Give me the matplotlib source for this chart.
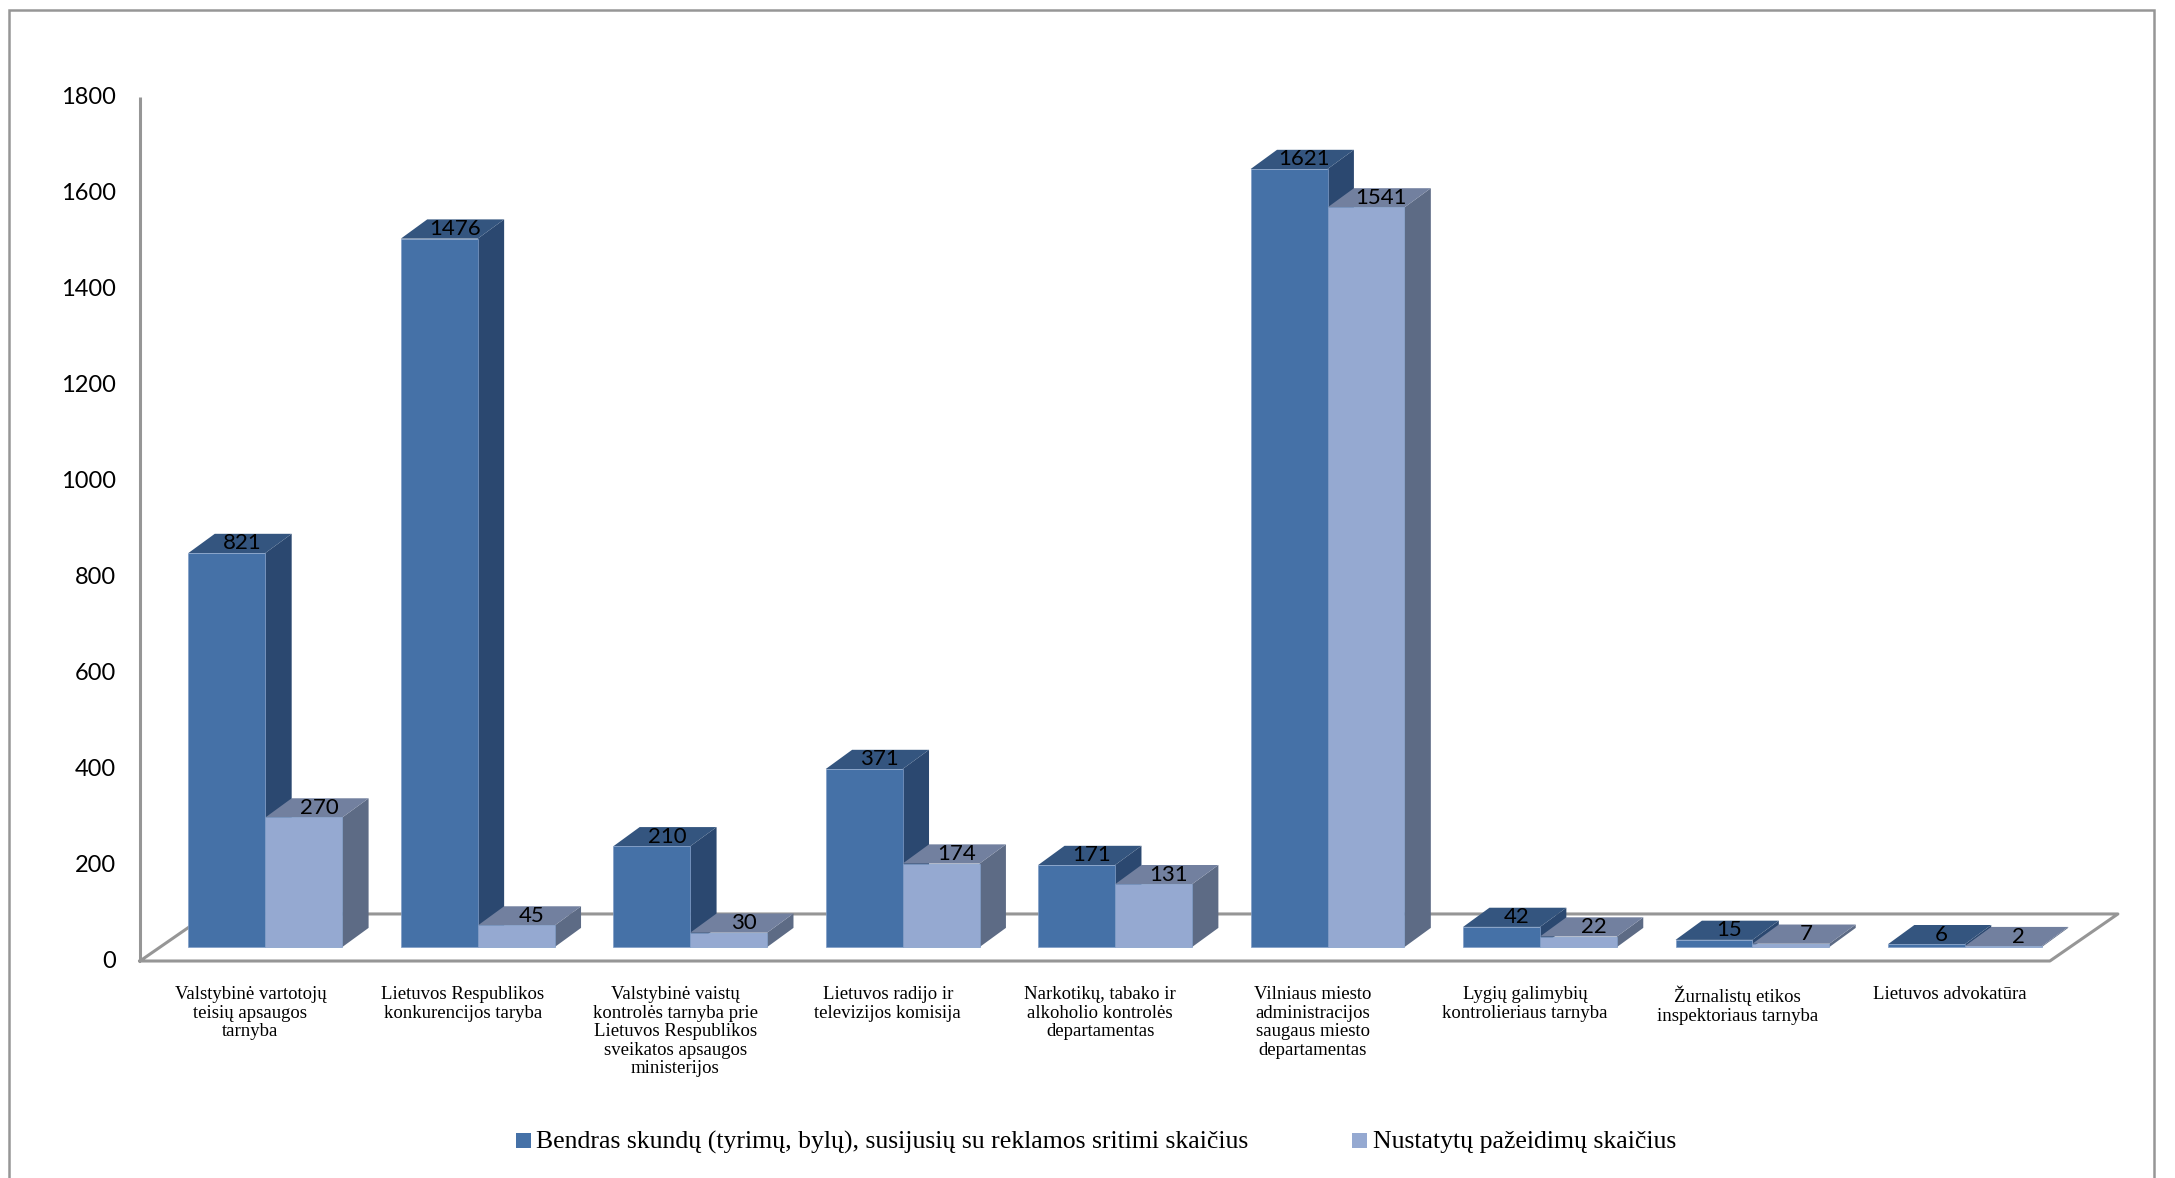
import matplotlib
matplotlib.use('Agg')
import matplotlib.pyplot as plt
from matplotlib.patches import Polygon, Rectangle

categories = [
    'Valstybinė vartotojų\nteisių apsaugos\ntarnyba',
    'Lietuvos Respublikos\nkonkurencijos taryba',
    'Valstybinė vaistų\nkontrolės tarnyba prie\nLietuvos Respublikos\nsveikatos apsaugos\nministerijos',
    'Lietuvos radijo ir\ntelevizijos komisija',
    'Narkotikų, tabako ir\nalkoholio kontrolės\ndepartamentas',
    'Vilniaus miesto\nadministracijos\nsaugaus miesto\ndepartamentas',
    'Lygių galimybių\nkontrolieriaus tarnyba',
    'Žurnalistų etikos\ninspektoriaus tarnyba',
    'Lietuvos advokatūra',
]
complaints = [821, 1476, 210, 371, 171, 1621, 42, 15, 6]
violations = [270, 45, 30, 174, 131, 1541, 22, 7, 2]
series_names = ['Bendras skundų (tyrimų, bylų), susijusių su reklamos sritimi skaičius',
                'Nustatytų pažeidimų skaičius']
y_ticks = [0, 200, 400, 600, 800, 1000, 1200, 1400, 1600, 1800]

GRAY = '#969696'
# front, top, side
BLUE = ('#4571a7', '#34557f', '#2b4870')
LIGHT = ('#95a9d1', '#72809f', '#5d6b85')

W, H = 2175, 1178
BAR_W = 0.362
BASE = 29     # bars stand this far above the front edge of the floor
DX = 0.124    # 3d depth of a bar
DY = 40
FLOOR_DX = 0.32
FLOOR_DY = 98

fig = plt.figure(figsize=(W / 100, H / 100), dpi=100)
ax = fig.add_axes([140 / W, 1 - 961 / H, (2120 - 140) / W, (961 - 97) / H])
ax.set_xlim(-0.59, 8.73)
ax.set_ylim(0, 1800)
ax.axis('off')

# page frame
fig.add_artist(Rectangle((9 / W, -0.02), (W - 30) / W, 1.02 - 10 / H, fill=False,
                         edgecolor=GRAY, linewidth=1.8, transform=fig.transFigure))

# floor and y axis
x0, x1 = -0.59, 8.40
ax.plot([x0, x0], [1800, 0], color=GRAY, lw=2.2, clip_on=False, zorder=1, solid_capstyle='butt')
ax.plot([x0, x1, x1 + FLOOR_DX, x0 + FLOOR_DX, x0],
        [0, 0, FLOOR_DY, FLOOR_DY, 0], color=GRAY, lw=2.2, clip_on=False, zorder=1)


def draw_bar(x, value, colors, z):
    top = BASE + value
    ax.bar(x, value, BAR_W, bottom=BASE, align='edge', color=colors[0],
           edgecolor='#7f9cc6', linewidth=0.5, zorder=z + 0.2)
    ax.add_patch(Polygon([(x + BAR_W, BASE), (x + BAR_W + DX, BASE + DY),
                          (x + BAR_W + DX, top + DY), (x + BAR_W, top)],
                         facecolor=colors[2], edgecolor='none', zorder=z))
    ax.add_patch(Polygon([(x, top), (x + DX, top + DY), (x + BAR_W + DX, top + DY), (x + BAR_W, top)],
                         facecolor=colors[1], edgecolor='none', zorder=z + 0.1))


for i, (a, b) in enumerate(zip(complaints, violations)):
    draw_bar(i - BAR_W, a, BLUE, 2 + i)
    draw_bar(i, b, LIGHT, 2.5 + i)
    for x, v in ((i - BAR_W, a), (i, b)):
        ax.text(x + BAR_W / 2 + DX * 0.58, BASE + v + DY * 0.5, str(v), ha='center', va='center',
                fontsize=16, family='Lato', color='black', zorder=30)
    ax.text(i - 0.07, -52, categories[i], ha='center', va='top', fontsize=13.5,
            family='Liberation Serif', linespacing=1.12, color='black', clip_on=False)

for t in y_ticks:
    ax.text(-0.705, t, str(t), ha='right', va='center', fontsize=17, family='Lato',
            color='black', clip_on=False)

# legend
fig.patches.append(Rectangle((516 / W, 1 - 1148 / H), 15 / W, 15 / H, facecolor=BLUE[0],
                             edgecolor='none', transform=fig.transFigure))
fig.text(536 / W, 1 - 1142 / H, series_names[0], ha='left', va='center', fontsize=18.5,
         family='Liberation Serif', color='black')
fig.patches.append(Rectangle((1352 / W, 1 - 1148 / H), 15 / W, 15 / H, facecolor=LIGHT[0],
                             edgecolor='none', transform=fig.transFigure))
fig.text(1373 / W, 1 - 1142 / H, series_names[1], ha='left', va='center', fontsize=18.5,
         family='Liberation Serif', color='black')

fig.savefig('out.png', dpi=100)
